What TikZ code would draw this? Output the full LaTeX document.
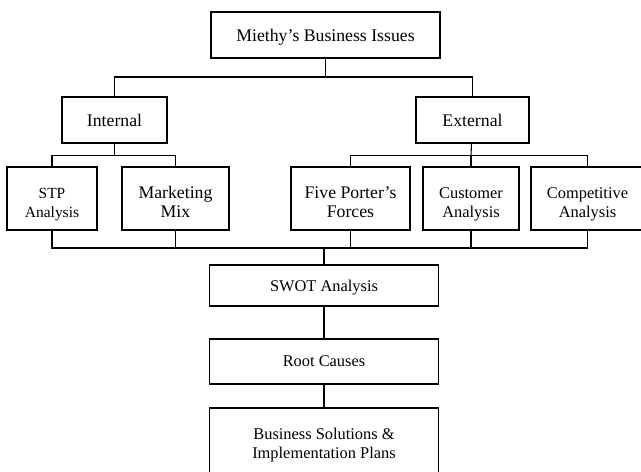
\documentclass[tikz,border=0pt]{standalone}
\usepackage{fontspec}
\setmainfont{Liberation Serif}
\usepackage{tikz}

\begin{document}
\begin{tikzpicture}[x=0.75pt, y=-0.75pt,
		box/.style={draw, line width=0.9pt, inner sep=0pt, align=center, text depth=0pt, minimum height=#1*0.75pt},
		box/.default=46,
		twoline/.style={text height=28pt},
		big/.style={font=\fontsize{13.3}{14.3}\selectfont},
		small/.style={font=\fontsize{12.3}{14.3}\selectfont},
		link/.style={line width=0.8pt}]
			\clip (0,0) rectangle (641,471);

			% Nodes
			\node[box, big, minimum width=229*0.75pt] (issues) at (325.5,35) {Miethy's Business Issues};
			\node[box, big, minimum width=105*0.75pt] (int) at (114.5,120) {Internal};
			\node[box, big, minimum width=113*0.75pt] (ext) at (472.5,120) {External};

			\node[box=63, twoline, font=\fontsize{11.6}{14.3}\selectfont, minimum width=90*0.75pt] (stp) at (52,198.5) {STP\\Analysis};
			\node[box=63, twoline, big, minimum width=107*0.75pt] (mix) at (175.5,198.5) {Marketing\\Mix};
			\node[box=63, twoline, big, minimum width=119*0.75pt] (five) at (350.5,198.5) {Five Porter's\\Forces};
			\node[box=63, twoline, small, minimum width=96*0.75pt] (cust) at (471,198.5) {Customer\\Analysis};
			\node[box=63, twoline, small, minimum width=113*0.75pt] (comp) at (587.5,198.5) {Competitive\\Analysis};

			\node[box=41, small, minimum width=229*0.75pt] (swot) at (324,285.5) {SWOT Analysis};
			\node[box=45, small, minimum width=229*0.75pt] (root) at (324,361.5) {Root Causes};
			\node[box=70, small, minimum width=229*0.75pt] (plans) at (324,443) {Business Solutions \&\\Implementation Plans};

			% Junctions
			\coordinate (j1) at (325.5,77);
			\coordinate (j2) at (114.5,155.5);
			\coordinate (j3) at (471,155.5);
			\coordinate (j4) at (324,248);

			% Connectors
			\draw[link] (issues) -- (j1);
			\draw[link] (int.north) |- (j1) -| (ext.north);

			\draw[link] (int) -- (j2);
			\draw[link] (stp.north) |- (j2) -| (mix.north);
			\draw[link] (ext) -- (j3);
			\draw[link] (five.north) |- (j3) -| (comp.north);
			\draw[link] (cust.north) -- (cust.north |- j3);

			\draw[link] (stp.south) |- (j4) -| (comp.south);
			\draw[link] (mix.south) -- (mix.south |- j4);
			\draw[link] (five.south) -- (five.south |- j4);
			\draw[link] (cust.south) -- (cust.south |- j4);
			\draw[link] (j4) -- (swot);

			\draw[link] (swot) -- (root);
			\draw[link] (root) -- (plans);

		\end{tikzpicture}
\end{document}
